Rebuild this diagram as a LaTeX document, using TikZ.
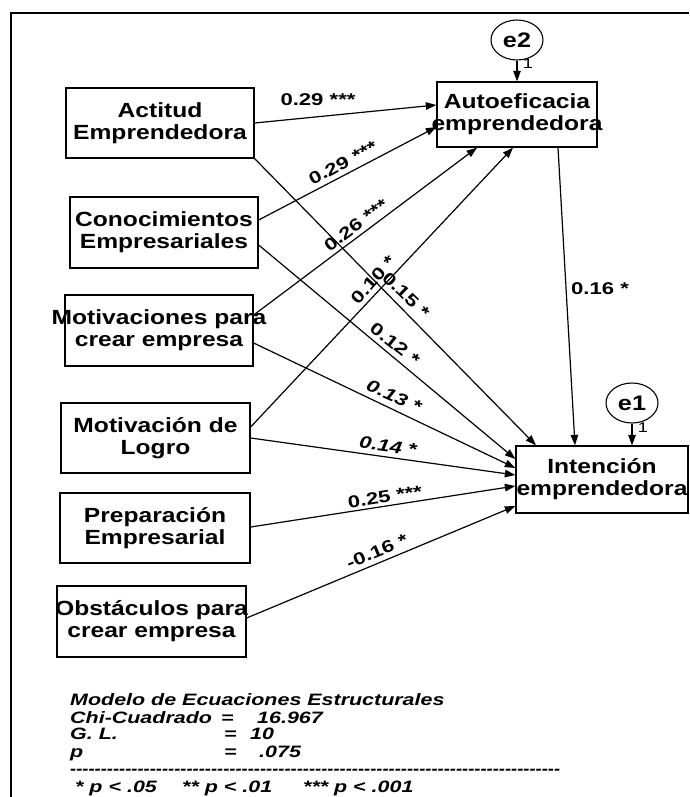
\documentclass[tikz,border=0pt]{standalone}
\usepackage{fontspec}
\usepackage{graphicx}
\setmainfont{Liberation Sans}
\newfontfamily\boxfont[FakeStretch=1.2]{Liberation Sans}
\newfontfamily\lblfont[FakeStretch=1.3]{Liberation Sans}
\usetikzlibrary{arrows.meta,shapes.geometric}
% zero-width line so long labels may spill over the box border
\newcommand\zw[1]{\makebox[0pt]{#1}}
\begin{document}
\begin{tikzpicture}[x=1pt,y=-1pt,
  box/.style={draw, line width=1.3pt, inner sep=0pt, align=center,
    font=\boxfont\bfseries\fontsize{20.5}{22}\selectfont},
  err/.style={draw, ellipse, line width=1.1pt, inner sep=0pt,
    minimum width=52pt, minimum height=40pt,
    font=\boxfont\bfseries\fontsize{21}{22}\selectfont},
  arr/.style={-{Triangle[length=10.5pt,width=7.5pt]}, line width=1.2pt},
  coef/.style={font=\lblfont\bfseries\fontsize{17}{18}\selectfont, inner sep=0pt},
  icoef/.style={coef, font=\lblfont\bfseries\itshape\fontsize{17}{18}\selectfont},
  one/.style={font=\lblfont\fontsize{14}{14}\selectfont, inner sep=0pt},
  stat/.style={font=\lblfont\bfseries\itshape\fontsize{16.5}{18}\selectfont,
    inner sep=0pt, anchor=base west}]
\useasboundingbox (0,0) rectangle (689,797);

% outer frame
\draw[line width=2pt] (11,797) -- (11,13) -- (689,13);

% observed variables
\node[box, minimum width=188pt, minimum height=70pt] (act) at (160,123)
  {\zw{Actitud}\\\zw{Emprendedora}};
\node[box, minimum width=188pt, minimum height=71pt] (con) at (164,232.5)
  {\zw{Conocimientos}\\\zw{Empresariales}};
\node[box, minimum width=188pt, minimum height=71pt] (mot) at (159,330.5)
  {\zw{Motivaciones para}\\\zw{crear empresa}};
\node[box, minimum width=189pt, minimum height=70pt] (log) at (155.5,438)
  {\zw{Motivación de}\\\zw{Logro}};
\node[box, minimum width=190pt, minimum height=70pt] (pre) at (155,528)
  {\zw{Preparación}\\\zw{Empresarial}};
\node[box, minimum width=189pt, minimum height=71pt] (obs) at (151.5,621.5)
  {\zw{Obstáculos para}\\\zw{crear empresa}};

% endogenous variables
\node[box, minimum width=160pt, minimum height=65pt] (ae) at (517,114.5)
  {\zw{Autoeficacia}\\\zw{emprendedora}};
\node[box, minimum width=172pt, minimum height=67pt] (ie) at (602,479.5)
  {\zw{Intención}\\\zw{emprendedora}};

% error terms
\node[err] (e2) at (517,40) {e2};
\node[err] (e1) at (632,403) {e1};
\draw[arr] (e2) -- (ae.north);
\draw[arr] (e1.south) -- ([xshift=30pt]ie.north);
\node[one] (w2) at (528,64) {1};
\node[one] (w1) at (643,428) {1};

% paths to Autoeficacia
\draw[arr] (act.east) -- ([yshift=9.5pt]ae.west);
\draw[arr] ([yshift=12.5pt]con.east) -- ([yshift=-12.5pt]ae.west);
\draw[arr] ([yshift=15.5pt]mot.east) -- ([xshift=-40pt]ae.south);
\draw[arr] ([yshift=11pt]log.east) -- ([xshift=-4pt]ae.south);

% paths to Intención
\draw[arr] (act.south east) -- ([xshift=-66pt]ie.north);
\draw[arr] ([xshift=41pt]ae.south) -- ([xshift=-27pt]ie.north);
\draw[arr] ([yshift=-12.5pt]con.east) -- ([yshift=20.5pt]ie.west);
\draw[arr] ([yshift=-12.5pt]mot.east) -- ([yshift=11.5pt]ie.west);
\draw[arr] (log.east) -- ([yshift=4.5pt]ie.west);
\draw[arr] ([yshift=1pt]pre.east) -- ([yshift=-6.5pt]ie.west);
\draw[arr] ([yshift=3.5pt]obs.east) -- ([yshift=-26.5pt]ie.west);

% path coefficients
\node[coef] (c1) at (318,100) {0.29 ***};
\node[coef, rotate=28] (c2) at (343,163) {0.29 ***};
\node[coef, rotate=37] (c3) at (356,225) {0.26 ***};
\node[coef, rotate=48] (c4) at (373,280) {0.10 *};
\node[coef, rotate=-44] (c5) at (406,295) {0.15 *};
\node[coef, rotate=-38] (c6) at (395,344) {0.12 *};
\node[icoef, rotate=-24] (c7) at (394,396) {0.13 *};
\node[icoef, rotate=-8] (c8) at (388,446) {0.14 *};
\node[coef, rotate=9] (c9) at (385,497) {0.25 ***};
\node[coef, rotate=23] (c10) at (377,551) {-0.16 *};
\node[coef] (c11) at (600,289) {0.16 *};

% fit summary
\node[stat] (s1) at (70,705) {Modelo de Ecuaciones Estructurales};
\node[stat] (s2) at (70,723) {Chi-Cuadrado};
\node[stat] (s2e) at (221,723) {=};
\node[stat] (s2v) at (257,723) {16.967};
\node[stat] (s3) at (70,739) {G. L.};
\node[stat] (s3e) at (224,739) {=};
\node[stat] (s3v) at (250,739) {10};
\node[stat] (s4) at (70,757) {p};
\node[stat] (s4e) at (224,757) {=};
\node[stat] (s4v) at (259,757) {.075};
\node[stat, anchor=west] (rule) at (70,772)
  {\resizebox{490pt}{\height}{-{}-{}-{}-{}-{}-{}-{}-{}-{}-{}-{}-{}-{}-{}-{}-{}-{}-{}-{}-{}-{}-{}-{}-{}-{}-{}-{}-{}-{}-{}-{}-{}-{}-{}-{}-{}-{}-{}-{}-{}-{}-{}-{}-{}-{}-{}-{}-{}-{}-{}-{}-{}-{}-{}-{}-{}-{}-{}-{}-{}-{}-{}-{}-{}-{}-{}-{}-{}-{}-{}-{}-{}-{}-{}-{}-{}-{}-{}-{}-{}}};
\node[stat] (g1) at (75,792) {* p < .05};
\node[stat] (g2) at (182,792) {** p < .01};
\node[stat] (g3) at (303,792) {*** p < .001};
\end{tikzpicture}
\end{document}
